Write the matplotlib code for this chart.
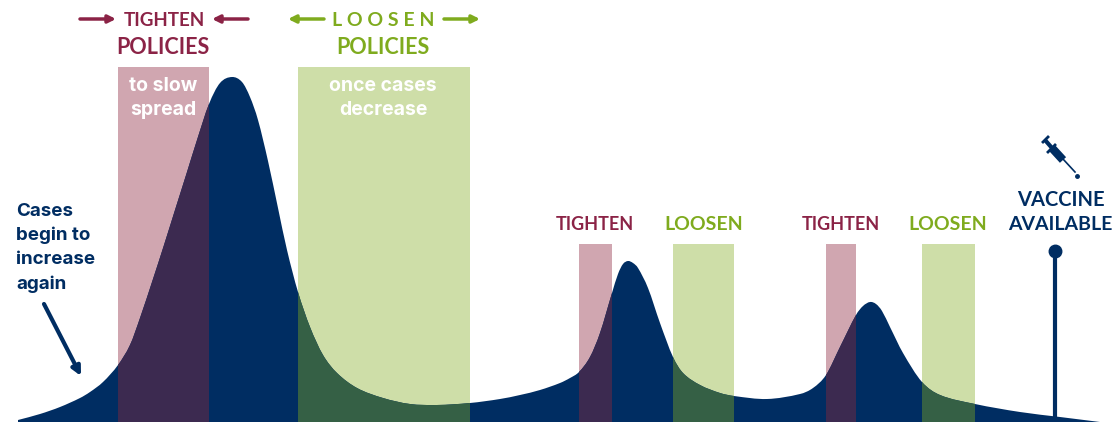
import matplotlib
matplotlib.use('Agg')
import matplotlib.pyplot as plt
from matplotlib.patches import PathPatch, Rectangle
from matplotlib.path import Path

plt.rcParams['font.family'] = ['Lato', 'DejaVu Sans']

# everything in pixels (y goes down)
curve_x = [18, 40, 60, 80, 90, 103, 118, 130, 140, 153, 164, 175, 187, 197, 209, 220, 232, 242, 250,
           258, 268, 278, 287, 298, 310, 323, 337, 357, 383, 410, 437, 470, 500, 520, 540, 560, 570, 579, 590,
           600, 612, 618, 623, 628, 633, 638, 648, 660, 673, 683, 700, 720, 734, 767, 800, 813, 826, 840, 856,
           863, 870, 876, 882, 890, 903, 922, 940, 975, 1020, 1060, 1100]
curve_y = [420, 414, 407, 398, 392, 382, 365, 345, 318, 279, 245, 210, 172, 140, 104, 83, 77, 82, 97,
           120, 161, 208, 250, 292, 327, 355, 373, 388, 398, 404, 405, 403, 399, 395, 390, 383, 378, 372, 357,
           333, 293, 274, 264, 261, 263, 268, 288, 323, 357, 373, 385, 393, 396, 399, 394, 388, 375, 347, 315,
           306, 302, 304, 311, 327, 353, 382, 395, 404, 412, 417, 422]

tighten_bands = [(118, 209, 67), (579, 612, 244), (826, 856, 244)]
loosen_bands = [(298, 470, 67), (673, 734, 244), (922, 975, 244)]
bottom = 422

NAVY = '#002D62'
RED = '#8B2346'
GREEN = '#7FAB1E'
PINK = '#D0A6B0'
PINK_DARK = '#3C2A50'
LIGHT_GREEN = '#CEDEA8'
GREEN_DARK = '#356045'


def smooth_path(xs, ys):
    # catmull-rom through the read points, closed along the bottom
    verts = [(xs[0], ys[0])]
    codes = [Path.MOVETO]
    n = len(xs)
    for i in range(n - 1):
        x0, y0 = xs[max(i - 1, 0)], ys[max(i - 1, 0)]
        x1, y1 = xs[i], ys[i]
        x2, y2 = xs[i + 1], ys[i + 1]
        x3, y3 = xs[min(i + 2, n - 1)], ys[min(i + 2, n - 1)]
        h = x2 - x1
        m1 = (y2 - y0) / (x2 - x0)
        m2 = (y3 - y1) / (x3 - x1)
        verts += [(x1 + h / 3, y1 + m1 * h / 3), (x2 - h / 3, y2 - m2 * h / 3), (x2, y2)]
        codes += [Path.CURVE4] * 3
    verts += [(xs[-1], bottom), (xs[0], bottom), (xs[0], ys[0])]
    codes += [Path.LINETO, Path.LINETO, Path.CLOSEPOLY]
    return Path(verts, codes)


fig = plt.figure(figsize=(11.17, 4.23), dpi=100)
ax = fig.add_axes([0, 0, 1, 1])
ax.set_xlim(0, 1117)
ax.set_ylim(423, 0)
ax.axis('off')

for x0, x1, top in tighten_bands:
    ax.add_patch(Rectangle((x0, top), x1 - x0, bottom - top, fc=PINK, ec='none', zorder=1))
for x0, x1, top in loosen_bands:
    ax.add_patch(Rectangle((x0, top), x1 - x0, bottom - top, fc=LIGHT_GREEN, ec='none', zorder=1))

curve = PathPatch(smooth_path(curve_x, curve_y), fc=NAVY, ec='none', zorder=2)
ax.add_patch(curve)

# darker overlap where the bands cross the curve
for bands, col in ((tighten_bands, PINK_DARK), (loosen_bands, GREEN_DARK)):
    for x0, x1, top in bands:
        r = Rectangle((x0, top), x1 - x0, bottom - top, fc=col, ec='none', zorder=3)
        ax.add_patch(r)
        r.set_clip_path(curve)


def txt(x, y, s, col, size=15, weight='bold', ha='center', family=None):
    ax.text(x, y, s, color=col, fontsize=size, fontweight=weight, ha=ha, va='center', zorder=5,
            family=family)


def arrow(x0, y0, x1, y1, col, lw=2.5, scale=11):
    ax.annotate('', xy=(x1, y1), xytext=(x0, y0), zorder=5,
                arrowprops=dict(arrowstyle='-|>', color=col, lw=lw, mutation_scale=scale,
                                shrinkA=0, shrinkB=0))


BODY = ['Inter', 'DejaVu Sans']

txt(164, 20, 'TIGHTEN', RED, 13.5)
txt(163, 47, 'POLICIES', RED, 15.5)
txt(383, 20, 'L O O S E N', GREEN, 14)
txt(383, 47, 'POLICIES', GREEN, 15.5)
arrow(80, 19, 116, 19, RED)
arrow(248, 19, 212, 19, RED)
arrow(324, 19, 288, 19, GREEN)
arrow(444, 19, 480, 19, GREEN)

txt(163, 86, 'to slow', 'white', 14, family=BODY)
txt(163, 110, 'spread', 'white', 14, family=BODY)
txt(383, 86, 'once cases', 'white', 14, family=BODY)
txt(383, 110, 'decrease', 'white', 14, family=BODY)

txt(595, 224, 'TIGHTEN', RED, 13)
txt(704, 224, 'LOOSEN', GREEN, 14)
txt(841, 224, 'TIGHTEN', RED, 13)
txt(948, 224, 'LOOSEN', GREEN, 14)

for y, s in zip([211, 235, 260, 284], ['Cases', 'begin to', 'increase', 'again']):
    txt(16, y, s, NAVY, 13.5, ha='left', family=BODY)
arrow(44, 304, 81, 376, NAVY, lw=3, scale=13)

txt(1061, 200, 'VACCINE', NAVY, 14.5)
txt(1060, 225, 'AVAILABLE', NAVY, 14)
ax.plot([1055, 1055], [251, 418], color=NAVY, lw=3, zorder=4, solid_capstyle='butt')
ax.plot([1055], [251], 'o', color=NAVY, ms=9, zorder=4)

# syringe icon
ax.plot([1045, 1052], [140, 148], color=NAVY, lw=3, zorder=5, solid_capstyle='butt')
ax.plot([1043, 1048], [142, 137], color=NAVY, lw=2, zorder=5)
ax.plot([1052, 1063], [148, 160], color=NAVY, lw=6, zorder=5, solid_capstyle='butt')
ax.plot([1048, 1055], [152, 145], color=NAVY, lw=2, zorder=5)
ax.plot([1063, 1075], [159, 172], color=NAVY, lw=1.2, zorder=5)
ax.plot([1077], [176], 'o', color=NAVY, ms=2.5, zorder=5)

fig.savefig('out.png', dpi=100)
